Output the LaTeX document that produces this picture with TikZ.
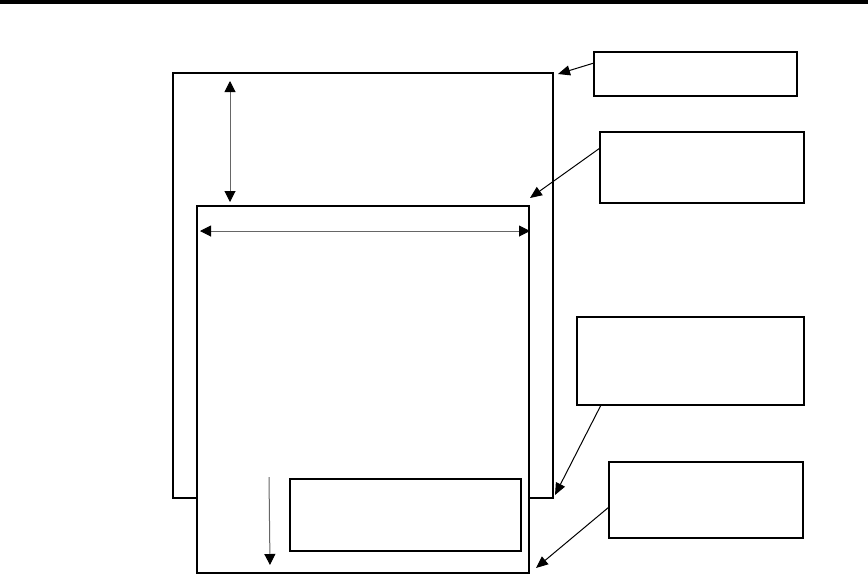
\documentclass[tikz,border=0pt]{standalone}
\usetikzlibrary{arrows.meta,calc}
\begin{document}
\begin{tikzpicture}[x=1pt,y=-1pt,
  frame/.style={draw,fill=white,line width=2pt,inner sep=0pt,outer sep=0pt,anchor=north west},
  callout/.style={draw,line width=1.6pt,inner sep=0pt,outer sep=0pt,anchor=north west},
  pointer/.style={-{Triangle[length=12pt,width=10pt]},line width=1pt},
  dimline/.style={{Triangle[length=11pt,width=11pt,black]}-{Triangle[length=11pt,width=11pt,black]},line width=1pt,draw=black!60},
  downarrow/.style={-{Triangle[length=11pt,width=11pt,black]},line width=1pt,draw=black!60}]
\useasboundingbox (0,0) rectangle (868,574);
% top rule
\fill (0,0) rectangle (868,3.5);
% main frames
\node[frame,minimum width=380pt,minimum height=425pt] (outer) at (173,73) {};
\node[frame,minimum width=332pt,minimum height=367pt] (inner) at (197,206) {};
\node[callout,minimum width=231pt,minimum height=72pt] (small) at (290,479) {};
% callout boxes
\node[callout,minimum width=203pt,minimum height=44pt] (b1) at (594,52) {};
\node[callout,minimum width=204pt,minimum height=71pt] (b2) at (600,132) {};
\node[callout,line width=1.3pt,minimum width=227pt,minimum height=88pt] (b3) at (577,317) {};
\node[callout,minimum width=194pt,minimum height=76pt] (b4) at (609,462) {};
% pointers
\draw[pointer] ($(b1.north west)+(0,11)$) -- ($(outer.north east)+(5,1)$);
\draw[pointer] ($(b2.north west)+(0,16)$) -- ($(inner.north east)+(1,-8)$);
\draw[pointer] ($(b3.south west)+(24,0)$) -- ($(outer.south east)+(2,-3)$);
\draw[pointer] ($(b4.north west)+(0,45)$) -- ($(inner.south east)+(7,-5)$);
% dimension arrows
\coordinate (vtop) at ($(outer.north west)+(57,8)$);
\coordinate (vbot) at ($(inner.north west)+(33,-4)$);
\draw[dimline] (vtop) -- (vbot);
\coordinate (hl) at ($(inner.north west)+(3,25)$);
\coordinate (hr) at ($(inner.north east)+(1,25)$);
\draw[dimline] (hl) -- (hr);
\coordinate (dtop) at ($(small.north west)+(-21,-2)$);
\coordinate (dbot) at ($(small.north west)+(-20,86)$);
\draw[downarrow] (dtop) -- (dbot);
\end{tikzpicture}
\end{document}
